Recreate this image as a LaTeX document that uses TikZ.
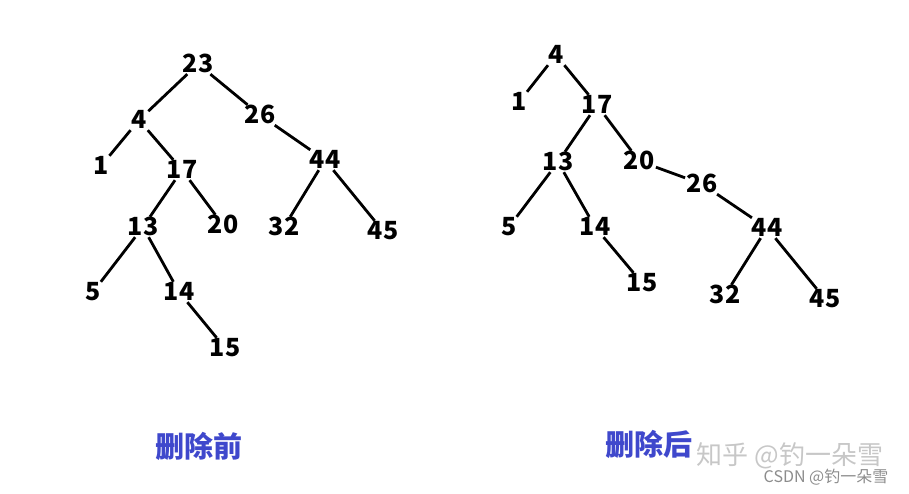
\documentclass[tikz,border=0pt]{standalone}
\usepackage{fontspec}
\setmainfont{Noto Sans CJK SC}
\definecolor{labelblue}{HTML}{3F48CC}
\begin{document}
\begin{tikzpicture}[x=1pt,y=-1pt,
  num/.style={font=\bfseries\fontsize{25}{25}\selectfont, inner sep=1.5pt, text height=17pt, text depth=0pt},
  edge/.style={line width=2.8pt, black},
  title/.style={font=\bfseries\fontsize{29}{29}\selectfont, text=labelblue, inner sep=0pt}]
\useasboundingbox (0,0) rectangle (909,494);
% ---------- before ----------
\node[num] (a23) at (198,64) {23};
\node[num] (a4)  at (139,120) {4};
\node[num] (a26) at (260,115) {26};
\node[num] (a1)  at (101,166) {1};
\node[num] (a17) at (182,170) {17};
\node[num] (a44) at (325,160) {44};
\node[num] (a13) at (143,227) {13};
\node[num] (a20) at (223,225) {20};
\node[num] (a32) at (284,227) {32};
\node[num] (a45) at (383,231) {45};
\node[num] (a5)  at (93,292) {5};
\node[num] (a14) at (179,292) {14};
\node[num] (a15) at (225,348) {15};
\draw[edge] (a23) -- (a4);
\draw[edge] (a23) -- (a26);
\draw[edge] (a4) -- (a1);
\draw[edge] (a4) -- (a17);
\draw[edge] (a26) -- (a44);
\draw[edge] (a17) -- (a13);
\draw[edge] (a17) -- (a20);
\draw[edge] (a44) -- (a32);
\draw[edge] (a44) -- (a45);
\draw[edge] (a13) -- (a5);
\draw[edge] (a13) -- (a14);
\draw[edge] (a14) -- (a15);
% ---------- after ----------
\node[num] (b4)  at (556,55) {4};
\node[num] (b1)  at (519,102) {1};
\node[num] (b17) at (597,105) {17};
\node[num] (b13) at (558,162) {13};
\node[num] (b20) at (639,161) {20};
\node[num] (b26) at (702,184) {26};
\node[num] (b5)  at (509,227) {5};
\node[num] (b14) at (595,227) {14};
\node[num] (b44) at (767,228) {44};
\node[num] (b15) at (642,283) {15};
\node[num] (b32) at (725,295) {32};
\node[num] (b45) at (825,299) {45};
\draw[edge] (b4) -- (b1);
\draw[edge] (b4) -- (b17);
\draw[edge] (b17) -- (b13);
\draw[edge] (b17) -- (b20);
\draw[edge] (b20) -- (b26);
\draw[edge] (b26) -- (b44);
\draw[edge] (b13) -- (b5);
\draw[edge] (b13) -- (b14);
\draw[edge] (b14) -- (b15);
\draw[edge] (b44) -- (b32);
\draw[edge] (b44) -- (b45);
% ---------- titles ----------
\node[title] (t1) at (199,446) {删除前};
\node[title] (t2) at (649,444) {删除后};
% ---------- watermarks ----------
\node[font=\fontsize{26}{26}\selectfont, text=black!22, inner sep=0pt] (w1) at (790,456) {知乎 @钓一朵雪};
\node[font=\fontsize{16}{16}\selectfont, text=black!45, inner sep=0pt] (w2) at (826,477) {CSDN @钓一朵雪};
\end{tikzpicture}
\end{document}
